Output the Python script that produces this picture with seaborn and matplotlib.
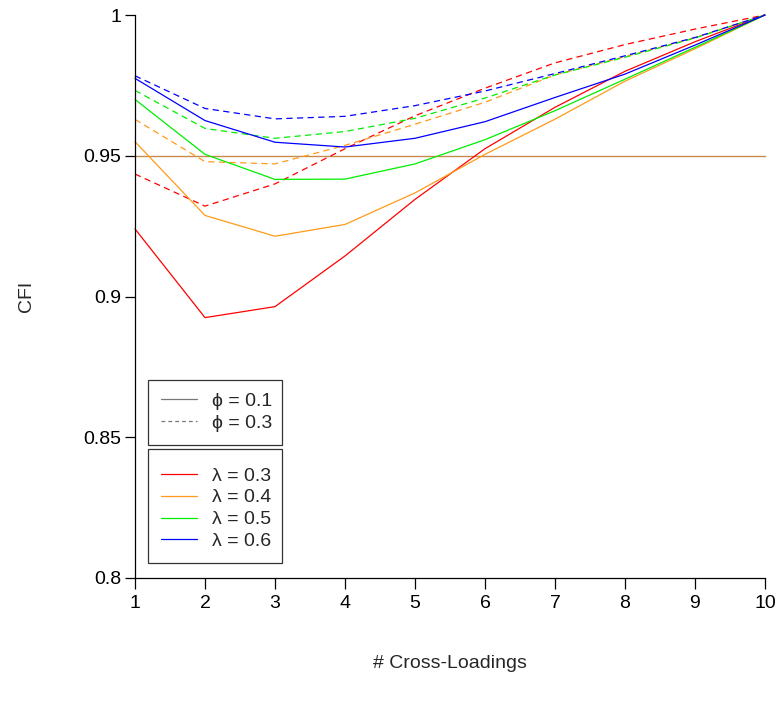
import matplotlib
matplotlib.use("Agg")
import matplotlib.pyplot as plt
from matplotlib.lines import Line2D
import seaborn as sns
import pandas as pd

cross_loadings = [1, 2, 3, 4, 5, 6, 7, 8, 9, 10]

# phi = 0.1 (solid)
phi01_lam03 = [0.9240, 0.8925, 0.8964, 0.9144, 0.9345, 0.9525, 0.9672, 0.9800, 0.9905, 1.0]
phi01_lam04 = [0.9550, 0.9288, 0.9214, 0.9256, 0.9368, 0.9505, 0.9630, 0.9765, 0.9880, 1.0]
phi01_lam05 = [0.9700, 0.9505, 0.9416, 0.9417, 0.9471, 0.9557, 0.9660, 0.9772, 0.9885, 1.0]
phi01_lam06 = [0.9775, 0.9625, 0.9548, 0.9531, 0.9562, 0.9621, 0.9707, 0.9790, 0.9893, 1.0]

# phi = 0.3 (dashed)
phi03_lam03 = [0.9435, 0.9321, 0.9400, 0.9525, 0.9642, 0.9740, 0.9830, 0.9895, 0.9950, 1.0]
phi03_lam04 = [0.9629, 0.9479, 0.9471, 0.9537, 0.9612, 0.9690, 0.9787, 0.9852, 0.9920, 1.0]
phi03_lam05 = [0.9732, 0.9597, 0.9562, 0.9586, 0.9633, 0.9705, 0.9787, 0.9850, 0.9918, 1.0]
phi03_lam06 = [0.9784, 0.9668, 0.9631, 0.9640, 0.9678, 0.9730, 0.9792, 0.9855, 0.9920, 1.0]

cutoff = 0.95
lambda_labels = ["λ = 0.3", "λ = 0.4", "λ = 0.5", "λ = 0.6"]
phi_labels = ["ϕ = 0.1", "ϕ = 0.3"]
y_ticks = [0.8, 0.85, 0.9, 0.95, 1.0]
y_ticklabels = ["0.8", "0.85", "0.9", "0.95", "1"]

series = {
    ("ϕ = 0.1", "λ = 0.3"): phi01_lam03,
    ("ϕ = 0.1", "λ = 0.4"): phi01_lam04,
    ("ϕ = 0.1", "λ = 0.5"): phi01_lam05,
    ("ϕ = 0.1", "λ = 0.6"): phi01_lam06,
    ("ϕ = 0.3", "λ = 0.3"): phi03_lam03,
    ("ϕ = 0.3", "λ = 0.4"): phi03_lam04,
    ("ϕ = 0.3", "λ = 0.5"): phi03_lam05,
    ("ϕ = 0.3", "λ = 0.6"): phi03_lam06,
}
rows = []
for (phi, lam), vals in series.items():
    for xv, yv in zip(cross_loadings, vals):
        rows.append({"x": xv, "cfi": yv, "phi": phi, "lam": lam})
df = pd.DataFrame(rows)

sns.set_style("white")
plt.rcParams["font.family"] = ["Liberation Sans", "DejaVu Sans"]

FS = 14
colors = ["#FF0000", "#FF9A1A", "#00EE00", "#0000FF"]
palette = dict(zip(lambda_labels, colors))
dash_map = {"ϕ = 0.1": "", "ϕ = 0.3": (5, 3.5)}

fig = plt.figure(figsize=(7.8, 7.03), dpi=100)
ax = fig.add_axes([135 / 780, (703 - 578) / 703, 630 / 780, 563 / 703])

ax.axhline(cutoff, color="#C98A4E", lw=1.0, zorder=1)

sns.lineplot(data=df, x="x", y="cfi", hue="lam", style="phi",
             palette=palette, dashes=dash_map, hue_order=lambda_labels,
             style_order=phi_labels, legend=False, lw=0.9, ax=ax,
             estimator=None, sort=False)
for ln in ax.lines:
    ln.set_clip_on(False)

ax.set_xlim(1, 10)
ax.set_ylim(0.8, 1.0)
ax.set_xticks(cross_loadings)
ax.set_yticks(y_ticks)
ax.set_yticklabels(y_ticklabels)
for s in ["top", "right"]:
    ax.spines[s].set_visible(False)
for s in ["left", "bottom"]:
    ax.spines[s].set_color("black")
    ax.spines[s].set_linewidth(0.9)
ax.tick_params(axis="both", direction="out", length=7, width=0.9,
               color="black", labelsize=FS, labelcolor="black", pad=3,
               left=True, bottom=True)
ax.tick_params(axis="x", length=8, pad=4)
ax.set_xlabel("# Cross-Loadings", fontsize=FS, labelpad=31)
ax.set_ylabel("CFI", fontsize=FS, labelpad=35)

leg_kw = dict(loc="upper left", mode="expand", fontsize=FS, frameon=True,
              fancybox=False, edgecolor="black", handlelength=1.85,
              handletextpad=0.8, borderpad=0.65, labelspacing=0.22,
              borderaxespad=0.0)

# Legend for phi
phi_handles = [Line2D([0], [0], color="#777777", lw=0.9, linestyle="-"),
               Line2D([0], [0], color="#777777", lw=0.9, linestyle=(0, (3, 2.5)))]
leg1 = ax.legend(phi_handles, phi_labels,
                 bbox_to_anchor=(0.0206, 0.3517, 0.2127, 0.0), **leg_kw)
leg1.get_frame().set_linewidth(0.9)
ax.add_artist(leg1)

lam_handles = [Line2D([0], [0], color=c, lw=0.9) for c in colors]
leg2 = ax.legend(lam_handles, lambda_labels,
                 bbox_to_anchor=(0.0206, 0.229, 0.2127, 0.0),
                 title=" ", title_fontsize=1, **leg_kw)
leg2.get_frame().set_linewidth(0.9)

fig.savefig("out.png", dpi=100)
